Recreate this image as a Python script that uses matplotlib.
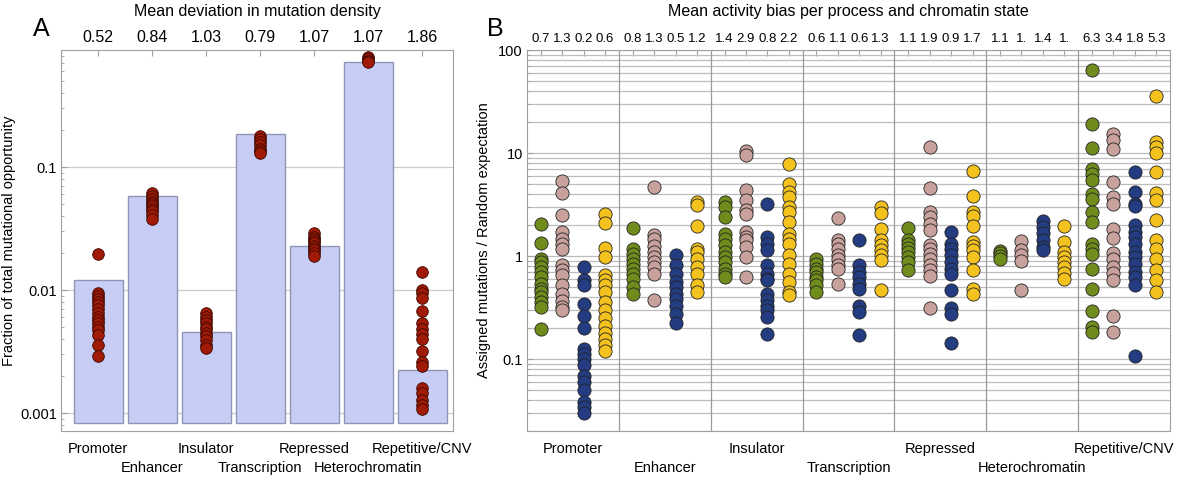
import matplotlib
matplotlib.use('Agg')
import matplotlib.pyplot as plt
import numpy as np
from matplotlib.ticker import LogLocator, NullFormatter

plt.rcParams['font.family'] = ['Liberation Sans', 'DejaVu Sans']

# Data
states = ['Promoter', 'Enhancer', 'Insulator', 'Transcription', 'Repressed',
          'Heterochromatin', 'Repetitive/CNV']
deviation_labels = ['0.52', '0.84', '1.03', '0.79', '1.07', '1.07', '1.86']
opportunity = [0.0121, 0.058, 0.0046, 0.187, 0.0229, 0.71, 0.00222]
bar_base = 0.00083

sample_fraction = [
    [0.0197, 0.0095, 0.009, 0.0085, 0.008, 0.0075, 0.007, 0.0065, 0.006, 0.0057,
     0.0054, 0.005, 0.0047, 0.0043, 0.0036, 0.0029],
    [0.061, 0.058, 0.055, 0.052, 0.05, 0.048, 0.046, 0.044, 0.041, 0.038],
    [0.0065, 0.006, 0.0057, 0.0054, 0.005, 0.0048, 0.0045, 0.0042, 0.0039, 0.0036, 0.0034],
    [0.18, 0.17, 0.16, 0.15, 0.14, 0.135, 0.13],
    [0.029, 0.027, 0.026, 0.025, 0.024, 0.023, 0.022, 0.021, 0.02, 0.019],
    [0.78, 0.75, 0.73, 0.71],
    [0.0141, 0.0101, 0.0094, 0.0086, 0.0068, 0.0054, 0.0048, 0.0044, 0.004, 0.0032,
     0.0026, 0.0024, 0.0016, 0.00145, 0.00128, 0.00116, 0.00107],
]

bias_labels = [
    ['0.7', '1.3', '0.2', '0.6'],
    ['0.8', '1.3', '0.5', '1.2'],
    ['1.4', '2.9', '0.8', '2.2'],
    ['0.6', '1.1', '0.6', '1.3'],
    ['1.1', '1.9', '0.9', '1.7'],
    ['1.1', '1.', '1.4', '1.'],
    ['6.3', '3.4', '1.8', '5.3'],
]

bias_green = [
    [2.06, 1.34, 0.94, 0.87, 0.78, 0.70, 0.63, 0.54, 0.48, 0.45, 0.40, 0.36, 0.32, 0.197],
    [1.88, 1.18, 1.05, 0.94, 0.84, 0.75, 0.67, 0.60, 0.50, 0.43],
    [3.34, 2.99, 2.39, 1.65, 1.48, 1.27, 1.09, 0.98, 0.87, 0.75, 0.67, 0.63],
    [0.94, 0.84, 0.75, 0.70, 0.63, 0.58, 0.52, 0.45],
    [1.87, 1.44, 1.32, 1.21, 1.09, 0.98, 0.87, 0.73],
    [1.12, 1.06, 1.0, 0.94],
    [64.5, 19.0, 11.3, 7.05, 6.3, 5.52, 4.03, 3.61, 2.67, 2.14, 1.32, 1.18, 1.05, 0.75,
     0.475, 0.29, 0.205, 0.183],
]
bias_pink = [
    [5.35, 4.12, 2.48, 1.71, 1.48, 1.32, 1.18, 0.81, 0.73, 0.65, 0.52, 0.43, 0.37, 0.32, 0.30],
    [4.68, 1.59, 1.48, 1.24, 1.09, 0.98, 0.87, 0.78, 0.67, 0.377],
    [10.6, 9.5, 4.34, 3.47, 2.82, 2.54, 1.71, 1.53, 1.42, 1.22, 0.98, 0.63],
    [2.34, 1.42, 1.32, 1.18, 1.02, 0.94, 0.81, 0.75, 0.53],
    [11.4, 4.57, 2.67, 2.39, 2.06, 1.80, 1.27, 1.18, 1.05, 0.94, 0.81, 0.73, 0.635, 0.31],
    [1.39, 1.14, 1.02, 0.89, 0.47],
    [15.4, 13.5, 10.9, 5.23, 3.74, 3.18, 1.85, 1.51, 1.07, 0.94, 0.78, 0.68, 0.59, 0.26, 0.183],
]
bias_blue = [
    [0.78, 0.58, 0.52, 0.345, 0.26, 0.20, 0.126, 0.113, 0.10, 0.087, 0.069, 0.060, 0.050,
     0.038, 0.034, 0.030],
    [1.02, 0.81, 0.67, 0.56, 0.50, 0.43, 0.385, 0.33, 0.275, 0.224],
    [3.23, 1.53, 1.32, 1.14, 0.81, 0.67, 0.60, 0.58, 0.43, 0.377, 0.33, 0.30, 0.256, 0.176],
    [1.44, 0.81, 0.70, 0.63, 0.54, 0.48, 0.33, 0.286, 0.17],
    [1.71, 1.30, 1.18, 1.02, 0.87, 0.75, 0.67, 0.47, 0.31, 0.275, 0.144],
    [2.17, 1.91, 1.67, 1.42, 1.22, 1.14],
    [6.5, 4.18, 3.23, 3.04, 1.99, 1.71, 1.53, 1.32, 1.09, 0.98, 0.84, 0.70, 0.63, 0.52, 0.107],
]
bias_yellow = [
    [2.54, 2.09, 1.21, 0.98, 0.65, 0.58, 0.52, 0.45, 0.36, 0.30, 0.25, 0.21, 0.18, 0.158,
     0.136, 0.12],
    [3.34, 3.11, 1.94, 1.18, 1.09, 0.94, 0.78, 0.67, 0.52, 0.45],
    [7.77, 5.05, 4.18, 3.74, 2.99, 2.67, 2.14, 1.65, 1.48, 1.32, 1.02, 0.84, 0.67, 0.56,
     0.45, 0.415],
    [2.99, 2.61, 1.85, 1.44, 1.27, 1.14, 1.02, 0.91, 0.47],
    [6.68, 3.80, 2.67, 2.43, 1.94, 1.37, 1.24, 1.14, 0.99, 0.74, 0.48, 0.43],
    [1.94, 1.37, 1.09, 0.98, 0.87, 0.78, 0.68, 0.60],
    [35.5, 12.8, 11.4, 10.0, 6.5, 4.09, 3.47, 2.22, 1.42, 1.18, 0.94, 0.73, 0.58, 0.45],
]

process_series = [bias_green, bias_pink, bias_blue, bias_yellow]
process_colors = ['#6f8c1c', '#c9a19c', '#233c82', '#f3c21e']

spine_col = '#a0a0a0'

fig = plt.figure(figsize=(12, 4.87), dpi=100)

# ---------------- Panel A ----------------
axA = fig.add_axes([0.0508, 0.115, 0.3267, 0.782])
x = np.arange(1, len(states) + 1)
axA.bar(x, [o - bar_base for o in opportunity], bottom=bar_base, width=0.9,
        color='#c8cdf5', edgecolor='#8f96b5', linewidth=1, zorder=2)
for i, vals in enumerate(sample_fraction):
    axA.scatter([x[i]] * len(vals), vals, s=70, color='#a01a05',
                edgecolors='#3a0800', linewidths=0.6, zorder=3)

axA.set_yscale('log')
axA.set_ylim(0.000714, 0.893)
axA.set_xlim(0.31, 7.57)
axA.set_yticks([0.001, 0.01, 0.1])
axA.set_yticklabels(['0.001', '0.01', '0.1'])
axA.yaxis.set_minor_locator(LogLocator(base=10, subs=np.arange(2, 10), numticks=20))
axA.yaxis.set_minor_formatter(NullFormatter())
axA.yaxis.grid(True, which='major', color='#cccccc', linewidth=0.9)
axA.set_axisbelow(True)
axA.tick_params(axis='y', which='major', direction='in', length=4, labelsize=10.5,
                color=spine_col, pad=3)
axA.tick_params(axis='y', which='minor', direction='in', length=2.5, color=spine_col)
axA.set_xticks(x)
axA.set_xticklabels(deviation_labels)
axA.tick_params(axis='x', top=True, labeltop=True, bottom=False, labelbottom=False,
                direction='in', length=4, labelsize=11.5, color=spine_col, pad=4)
for sp in axA.spines.values():
    sp.set_color(spine_col)
axA.set_ylabel('Fraction of total mutational opportunity', fontsize=10.5, labelpad=3)

for i, name in enumerate(states):
    off = -13.2 if i % 2 == 0 else -26.9
    axA.annotate(name, xy=(x[i], 0), xycoords=('data', 'axes fraction'),
                 xytext=(0, off), textcoords='offset points',
                 ha='center', va='center', fontsize=10.5)

axA.annotate('Mean deviation in mutation density', xy=(0.5, 1), xycoords='axes fraction',
             xytext=(0, 27.5), textcoords='offset points', ha='center', va='center',
             fontsize=11.5)
fig.text(41 / 1200, 1 - 29 / 487, 'A', fontsize=18, ha='center', va='center')

# ---------------- Panel B ----------------
axB = fig.add_axes([0.4392, 0.115, 0.5358, 0.782])
col_offsets = [0.15, 0.383, 0.617, 0.85]
top_pos = []
top_lab = []
for g in range(len(states)):
    for k, series in enumerate(process_series):
        vals = series[g]
        axB.scatter([g + col_offsets[k]] * len(vals), vals, s=90,
                    color=process_colors[k], edgecolors='#222222', linewidths=0.6,
                    zorder=3)
        top_pos.append(g + col_offsets[k])
        top_lab.append(bias_labels[g][k])

axB.set_yscale('log')
axB.set_ylim(0.02, 100)
axB.set_xlim(0, 7)
axB.set_yticks([0.1, 1, 10, 100])
axB.set_yticklabels(['0.1', '1', '10', '100'])
axB.yaxis.set_minor_locator(LogLocator(base=10, subs=np.arange(2, 10), numticks=20))
axB.yaxis.set_minor_formatter(NullFormatter())
axB.yaxis.grid(True, which='both', color='#bdbdbd', linewidth=0.9)
for b in range(1, 7):
    axB.axvline(b, color='#9a9a9a', linewidth=0.9, zorder=1)
axB.set_axisbelow(True)
axB.tick_params(axis='y', which='major', direction='in', length=4, labelsize=10.5,
                color=spine_col, pad=3)
axB.tick_params(axis='y', which='minor', direction='in', length=2.5, color=spine_col)
axB.set_xticks(top_pos)
axB.set_xticklabels(top_lab)
axB.tick_params(axis='x', top=True, labeltop=True, bottom=False, labelbottom=False,
                direction='in', length=4, labelsize=9.5, color=spine_col, pad=4)
for sp in axB.spines.values():
    sp.set_color(spine_col)
axB.set_ylabel('Assigned mutations / Random expectation', fontsize=10.5, labelpad=5)

for i, name in enumerate(states):
    off = -13.2 if i % 2 == 0 else -26.9
    axB.annotate(name, xy=(i + 0.5, 0), xycoords=('data', 'axes fraction'),
                 xytext=(0, off), textcoords='offset points',
                 ha='center', va='center', fontsize=10.5)

axB.annotate('Mean activity bias per process and chromatin state', xy=(0.5, 1),
             xycoords='axes fraction', xytext=(0, 27.5), textcoords='offset points',
             ha='center', va='center', fontsize=11.5)
fig.text(495 / 1200, 1 - 29 / 487, 'B', fontsize=18, ha='center', va='center')

fig.savefig('out.png', dpi=100)
